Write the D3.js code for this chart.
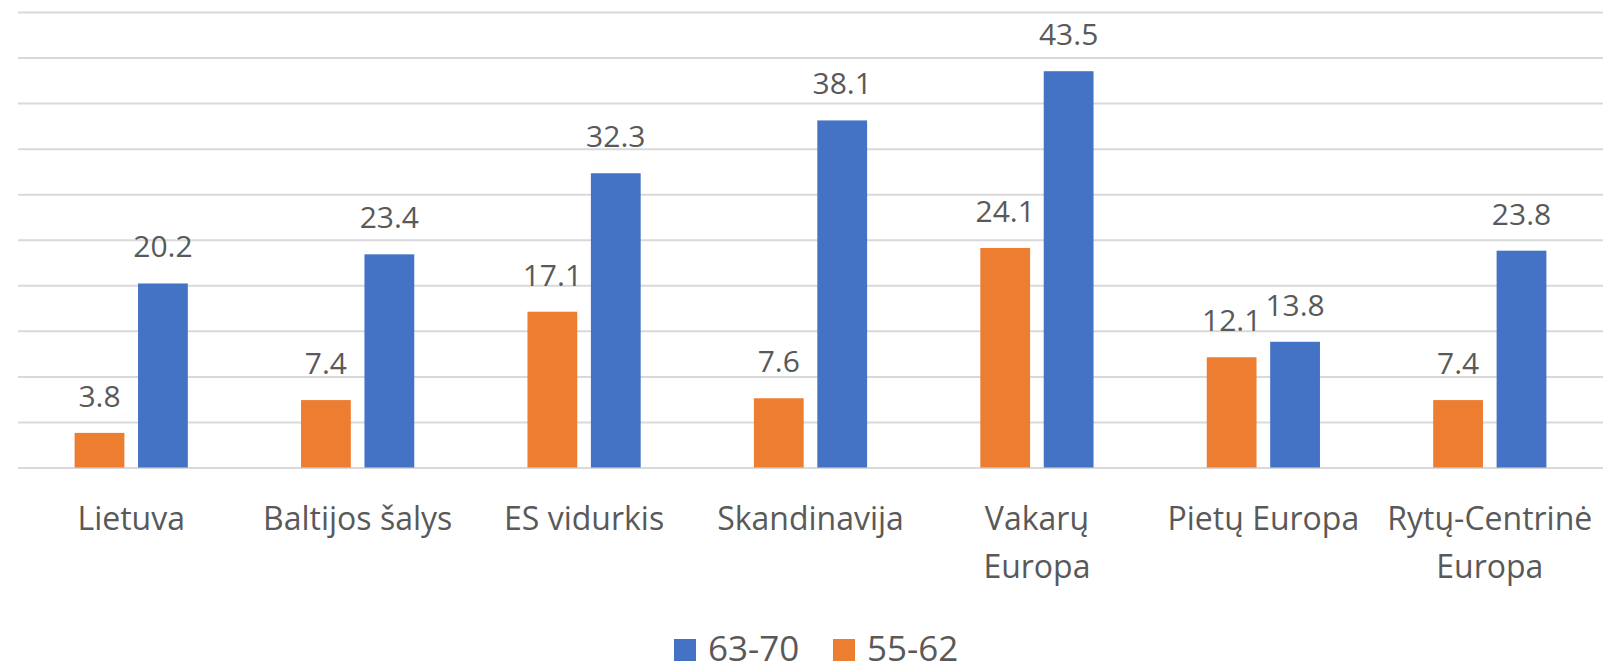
<!DOCTYPE html>
<html lang="lt">
<head>
<meta charset="UTF-8">
<script src="https://d3js.org/d3.v7.min.js"></script>
<style>
    body { margin: 0; padding: 0; background: #fff; }
    svg { display: block; font-family: "Open Sans", sans-serif; }
    .grid line { stroke: #d9d9d9; stroke-width: 2; }
    .grid .domain { display: none; }
    .lbl { fill: #595959; }
</style>
</head>
<body>
<div id="chart"></div>
<script>
    // data
    var categories = ["Lietuva", "Baltijos šalys", "ES vidurkis", "Skandinavija", "Vakarų\nEuropa", "Pietų Europa", "Rytų-Centrinė\nEuropa"];
    var series = ["55-62", "63-70"];
    var values5562 = [3.8, 7.4, 17.1, 7.6, 24.1, 12.1, 7.4];
    var values6370 = [20.2, 23.4, 32.3, 38.1, 43.5, 13.8, 23.8];
    var legendOrder = ["63-70", "55-62"];

    var W = 1616, H = 665;
    var plotLeft = 18, plotRight = 1603, plotTop = 12, base = 467.5;

    var color = d3.scaleOrdinal().domain(series).range(["#ED7D31", "#4472C4"]);

    var svg = d3.select("#chart").append("svg")
        .attr("width", W).attr("height", H);

    var x = d3.scaleBand().domain(categories).range([plotLeft, plotRight])
        .paddingInner(0.5).paddingOuter(0.25);
    var xs = d3.scaleBand().domain(series).range([0, x.bandwidth()]).paddingInner(0.215);
    var y = d3.scaleLinear().domain([0, 50]).range([base, plotTop]);

    // gridlines
    svg.append("g").attr("class", "grid")
        .attr("transform", "translate(" + plotLeft + ",0)")
        .call(d3.axisLeft(y).tickValues(d3.range(0, 51, 5)).tickSize(-(plotRight - plotLeft)).tickFormat(""));

    var rows = categories.map(function (c, i) {
        return { cat: c, vals: [{ s: "55-62", v: values5562[i] }, { s: "63-70", v: values6370[i] }] };
    });

    var groups = svg.selectAll("g.cat").data(rows).enter().append("g")
        .attr("class", "cat")
        .attr("transform", function (d) { return "translate(" + x(d.cat) + ",0)"; });

    groups.selectAll("rect").data(function (d) { return d.vals; }).enter().append("rect")
        .attr("x", function (d) { return xs(d.s); })
        .attr("y", function (d) { return y(d.v); })
        .attr("width", xs.bandwidth())
        .attr("height", function (d) { return base - y(d.v); })
        .attr("fill", function (d) { return color(d.s); });

    // value labels
    groups.selectAll("text.val").data(function (d) { return d.vals; }).enter().append("text")
        .attr("class", "val lbl")
        .attr("x", function (d) { return xs(d.s) + xs.bandwidth() / 2; })
        .attr("y", function (d) { return y(d.v) - 26; })
        .attr("text-anchor", "middle")
        .style("font-size", "30px")
        .text(function (d) { return d.v.toFixed(1); });

    // category labels
    var xa = svg.append("g").selectAll("text.cat").data(categories).enter().append("text")
        .attr("class", "lbl")
        .attr("text-anchor", "middle")
        .style("font-size", "32px")
        .attr("x", function (d) { return x(d) + x.bandwidth() / 2; })
        .attr("y", 530);
    xa.selectAll("tspan").data(function (d) { return d.split("\n"); }).enter().append("tspan")
        .attr("x", function () { var p = d3.select(this.parentNode).datum(); return x(p) + x.bandwidth() / 2; })
        .attr("dy", function (d, i) { return i === 0 ? 0 : 48; })
        .text(function (d) { return d; });

    // legend
    var lg = svg.append("g");
    var lx = [674, 833];
    legendOrder.forEach(function (s, i) {
        lg.append("rect").attr("x", lx[i]).attr("y", 639).attr("width", 22).attr("height", 22)
            .attr("fill", color(s));
        lg.append("text").attr("class", "lbl").attr("x", lx[i] + 34).attr("y", 661)
            .style("font-size", "35px").text(s);
    });
</script>
</body>
</html>
